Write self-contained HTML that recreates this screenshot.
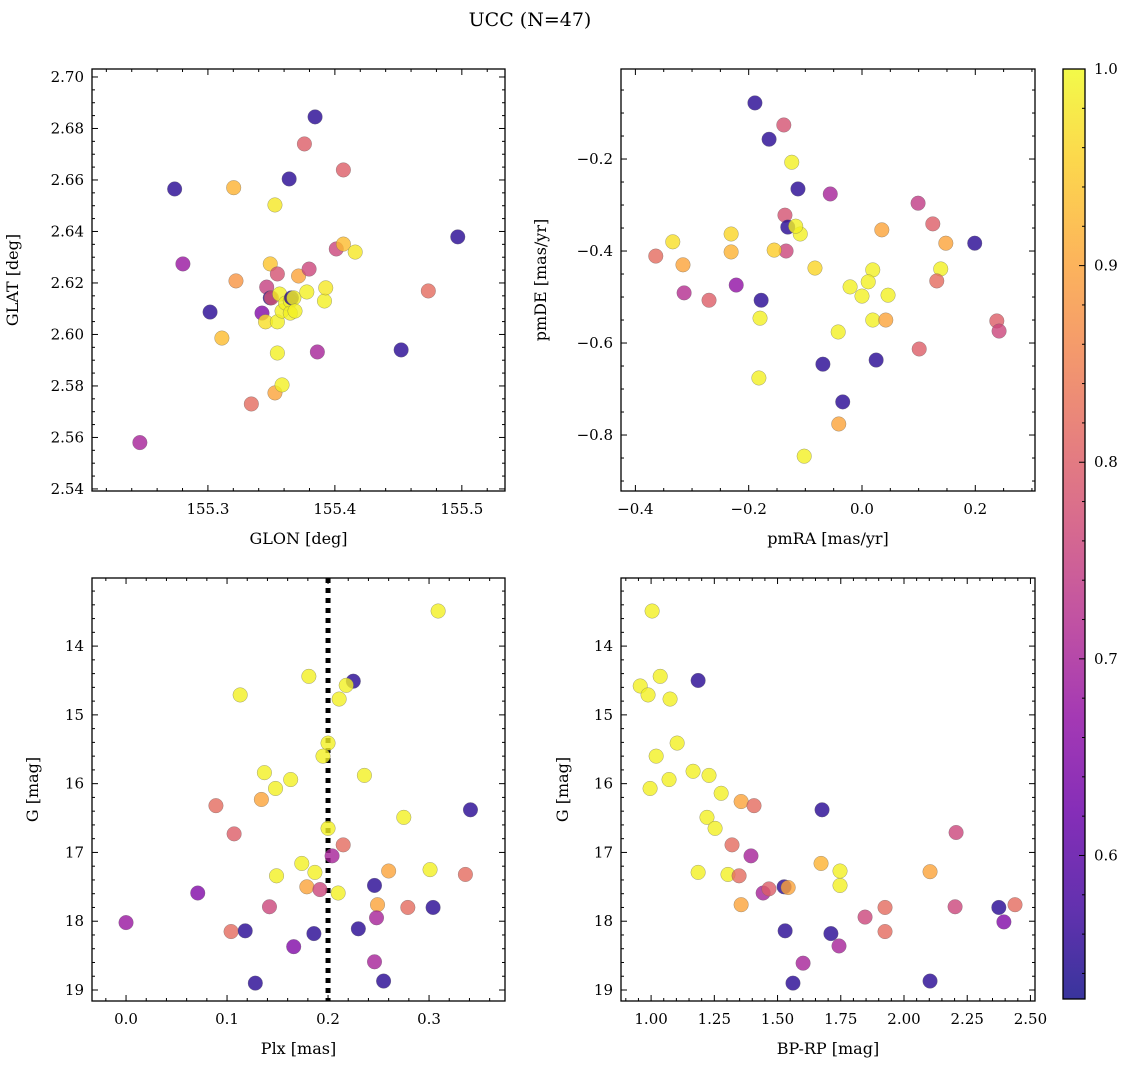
<!DOCTYPE html>
<html><head><meta charset="utf-8"><style>
body{margin:0;background:#fff}
svg{display:block;font-family:"DejaVu Serif","Liberation Serif",serif}
</style></head><body>
<svg id="fig" width="1136" height="1068" viewBox="0 0 1136 1068" xmlns="http://www.w3.org/2000/svg">
<defs><linearGradient id="cbg" x1="0" y1="1" x2="0" y2="0">
<stop offset="0" stop-color="#0d0887"/><stop offset="0.1" stop-color="#41049d"/><stop offset="0.2" stop-color="#6a00a8"/><stop offset="0.3" stop-color="#8f0da4"/><stop offset="0.4" stop-color="#b12a90"/><stop offset="0.5" stop-color="#cc4778"/><stop offset="0.6" stop-color="#e16462"/><stop offset="0.7" stop-color="#f2844b"/><stop offset="0.8" stop-color="#fca636"/><stop offset="0.9" stop-color="#fcce25"/><stop offset="1" stop-color="#f0f921"/></linearGradient></defs>
<text x="530" y="26" font-size="19" text-anchor="middle">UCC (N=47)</text>
</svg>
<script>
// ---- data ----
const glon=[155.2464,155.2738,155.2803,155.3017,155.311,155.3203,155.3221,155.3342,155.3426,155.3454,155.3463,155.3491,155.350,155.3491,155.3528,155.3528,155.3547,155.3547,155.3547,155.3565,155.3584,155.3584,155.3612,155.364,155.3649,155.3649,155.3658,155.3677,155.3686,155.3714,155.376,155.3779,155.3797,155.3844,155.3862,155.3918,155.3928,155.4011,155.4067,155.4067,155.416,155.4522,155.4736,155.4968];
const glat=[2.558,2.6565,2.6274,2.6087,2.5986,2.657,2.6208,2.573,2.6083,2.6049,2.6184,2.6142,2.6142,2.6274,2.6503,2.5773,2.6235,2.6049,2.5928,2.6157,2.6091,2.5804,2.6122,2.6604,2.613,2.6083,2.6142,2.6142,2.6091,2.6227,2.674,2.6165,2.6254,2.6845,2.5932,2.613,2.6181,2.6332,2.6639,2.6351,2.632,2.594,2.6169,2.6379];
const prob1=[0.70,0.55,0.68,0.55,0.93,0.92,0.88,0.82,0.65,0.97,0.75,0.55,0.78,0.94,0.98,0.90,0.78,0.99,0.99,0.99,0.99,0.99,0.99,0.55,0.99,0.99,0.55,0.99,0.99,0.90,0.80,0.99,0.76,0.55,0.70,0.99,0.98,0.76,0.80,0.93,0.98,0.55,0.82,0.55];

const pmra=[-0.189,-0.164,-0.138,-0.124,-0.113,-0.136,-0.056,0.099,0.125,-0.109,-0.131,-0.117,-0.134,-0.155,0.148,0.035,-0.334,-0.231,-0.364,-0.316,-0.231,-0.222,-0.314,-0.270,-0.178,-0.180,-0.083,0.019,0.011,-0.021,0,0.046,0.139,0.132,0.199,0.019,0.042,-0.042,0.025,-0.069,0.101,-0.182,-0.034,-0.041,-0.102,0.238,0.242];
const pmde=[-0.078,-0.157,-0.126,-0.207,-0.265,-0.322,-0.276,-0.296,-0.341,-0.363,-0.348,-0.346,-0.400,-0.398,-0.383,-0.354,-0.380,-0.363,-0.411,-0.430,-0.402,-0.474,-0.491,-0.507,-0.507,-0.546,-0.437,-0.441,-0.467,-0.478,-0.498,-0.496,-0.439,-0.465,-0.383,-0.550,-0.550,-0.576,-0.637,-0.646,-0.613,-0.676,-0.728,-0.776,-0.846,-0.552,-0.574];
const prob2=[0.55,0.55,0.78,0.99,0.55,0.78,0.70,0.74,0.80,0.99,0.55,0.99,0.76,0.95,0.90,0.90,0.97,0.96,0.82,0.90,0.92,0.67,0.72,0.80,0.55,0.99,0.96,0.99,0.99,0.99,0.99,0.99,0.99,0.82,0.55,0.99,0.90,0.99,0.55,0.55,0.80,0.99,0.55,0.90,0.99,0.80,0.76];

const plx=[0.309,0.000,0.071,0.104,0.118,0.113,0.181,0.225,0.218,0.211,0.200,0.195,0.236,0.137,0.163,0.148,0.089,0.134,0.275,0.341,0.200,0.215,0.107,0.204,0.174,0.187,0.149,0.260,0.301,0.336,0.179,0.192,0.210,0.246,0.249,0.142,0.279,0.248,0.304,0.230,0.166,0.186,0.246,0.128,0.255];
const gmag3=[13.49,18.02,17.59,18.15,18.14,14.71,14.44,14.51,14.57,14.77,15.41,15.60,15.88,15.84,15.94,16.07,16.32,16.23,16.49,16.38,16.65,16.89,16.73,17.05,17.16,17.29,17.34,17.27,17.25,17.32,17.50,17.54,17.59,17.48,17.76,17.79,17.80,17.95,17.80,18.11,18.37,18.18,18.59,18.90,18.87];
const prob3=[0.99,0.68,0.65,0.82,0.55,0.99,0.99,0.55,0.99,0.99,0.99,0.99,0.99,0.99,0.99,0.99,0.82,0.90,0.99,0.55,0.99,0.82,0.80,0.70,0.99,0.99,0.99,0.90,0.99,0.82,0.90,0.76,0.99,0.55,0.90,0.76,0.82,0.70,0.55,0.55,0.65,0.55,0.70,0.55,0.55];

const bprp=[1.004,0.957,1.036,0.988,1.186,1.075,1.103,1.020,1.071,1.166,1.229,0.996,1.277,1.356,1.407,1.676,1.221,1.253,1.320,1.395,1.672,1.186,1.304,1.348,1.356,1.443,1.466,1.526,1.542,1.747,1.747,1.846,2.103,2.206,2.202,1.925,2.375,2.395,2.439,1.530,1.711,1.925,1.743,1.601,1.561,2.103];
const gmag4=[13.49,14.58,14.44,14.71,14.50,14.77,15.41,15.60,15.94,15.82,15.88,16.07,16.14,16.26,16.32,16.38,16.49,16.65,16.89,17.05,17.16,17.29,17.32,17.34,17.76,17.59,17.53,17.50,17.51,17.27,17.48,17.94,17.28,16.71,17.79,17.80,17.80,18.01,17.76,18.14,18.18,18.15,18.36,18.61,18.90,18.87];
const prob4=[0.99,0.99,0.99,0.99,0.55,0.99,0.99,0.99,0.99,0.99,0.99,0.99,0.99,0.90,0.82,0.55,0.99,0.99,0.82,0.70,0.92,0.99,0.99,0.82,0.90,0.70,0.80,0.55,0.90,0.99,0.99,0.76,0.90,0.76,0.76,0.82,0.55,0.65,0.82,0.55,0.55,0.82,0.70,0.70,0.55,0.55];

const vmin=0.527, vmax=1.0;
const cbTicks=[0.6,0.7,0.8,0.9,1.0];

const svg=document.getElementById('fig');
const NS='http://www.w3.org/2000/svg';
function mk(tag,attrs,parent){const e=document.createElementNS(NS,tag);for(const k in attrs)e.setAttribute(k,attrs[k]);(parent||svg).appendChild(e);return e;}
const stops=['#0d0887','#41049d','#6a00a8','#8f0da4','#b12a90','#cc4778','#e16462','#f2844b','#fca636','#fcce25','#f0f921'];
function hex(h){return [1,3,5].map(i=>parseInt(h.substr(i,2),16));}
function plasma(v){let t=(v-vmin)/(vmax-vmin);t=Math.max(0,Math.min(1,t));const f=t*10,i=Math.min(9,Math.floor(f)),r=f-i;const a=hex(stops[i]),b=hex(stops[i+1]);return 'rgb('+a.map((c,k)=>Math.round(c+(b[k]-c)*r)).join(',')+')';}

function panel(o){
  const g=mk('g',{});
  
  
  const sx=v=>o.x0+(v-o.xmin)/(o.xmax-o.xmin)*(o.x1-o.x0);
  const sy=v=>o.inv? o.y0+(v-o.ymin)/(o.ymax-o.ymin)*(o.y1-o.y0) : o.y1-(v-o.ymin)/(o.ymax-o.ymin)*(o.y1-o.y0);
  if(o.vline!==undefined){const l=mk('line',{x1:sx(o.vline),x2:sx(o.vline),y1:o.y0,y2:o.y1,stroke:'#000','stroke-width':5,'stroke-dasharray':'5,5'},g);
    
    }
  o.xs.forEach((xv,i)=>{const c=mk('circle',{cx:sx(xv),cy:sy(o.ys[i]),r:7.3,fill:plasma(o.cs[i]),'fill-opacity':0.8,stroke:'#666','stroke-width':0.5,'stroke-opacity':0.6},g);
    
    });
  mk('rect',{x:o.x0,y:o.y0,width:o.x1-o.x0,height:o.y1-o.y0,fill:'none',stroke:'#000','stroke-width':1.3},g);
  const eps=1e-9;
  for(let k=Math.ceil(o.xmin/o.xminor-eps);k*o.xminor<=o.xmax+eps;k++){
    const v=k*o.xminor;const px=sx(v);const maj=Math.abs(v/o.xmajor-Math.round(v/o.xmajor))<1e-6;const L=maj?6:3;
    mk('line',{x1:px,x2:px,y1:o.y1,y2:o.y1-L,stroke:'#000','stroke-width':1},g);
    mk('line',{x1:px,x2:px,y1:o.y0,y2:o.y0+L,stroke:'#000','stroke-width':1},g);
    if(maj){const t=mk('text',{x:px,y:o.y1+23,'font-size':15,'text-anchor':'middle'},g);t.textContent=o.xfmt(v);
      
      }
  }
  for(let k=Math.ceil(o.ymin/o.yminor-eps);k*o.yminor<=o.ymax+eps;k++){
    const v=k*o.yminor;const py=sy(v);const maj=Math.abs(v/o.ymajor-Math.round(v/o.ymajor))<1e-6;const L=maj?6:3;
    mk('line',{x1:o.x0,x2:o.x0+L,y1:py,y2:py,stroke:'#000','stroke-width':1},g);
    mk('line',{x1:o.x1,x2:o.x1-L,y1:py,y2:py,stroke:'#000','stroke-width':1},g);
    if(maj){const t=mk('text',{x:o.x0-8,y:py+5,'font-size':15,'text-anchor':'end'},g);t.textContent=o.yfmt(v);
      
      }
  }
  const xl=mk('text',{x:(o.x0+o.x1)/2,y:o.y1+53,'font-size':16,'text-anchor':'middle'},g);xl.textContent=o.xlabel;
  
  
  const yx=o.ylx, yy=(o.y0+o.y1)/2;
  const yl=mk('text',{x:yx,y:yy,'font-size':16,'text-anchor':'middle',transform:'rotate(-90 '+yx+' '+yy+')'},g);yl.textContent=o.ylabel;
  
  
}
const m=v=>(v<0?'\u2212':'')+Math.abs(v);
panel({name:'glon-glat-panel',x0:92,x1:505,y0:69,y1:491,xmin:155.2087,xmax:155.534,ymin:2.5392,ymax:2.7031,xmajor:0.1,xminor:0.02,ymajor:0.02,yminor:0.005,
  xfmt:v=>v.toFixed(1),yfmt:v=>v.toFixed(2),xs:glon,ys:glat,cs:prob1,xlabel:'GLON [deg]',ylabel:'GLAT [deg]',ylx:18});
panel({name:'pm-panel',x0:621,x1:1035,y0:69,y1:491,xmin:-0.4254,xmax:0.3054,ymin:-0.9217,ymax:-0.0043,xmajor:0.2,xminor:0.05,ymajor:0.2,yminor:0.05,
  xfmt:v=>m(+v.toFixed(1)).replace(/^(\u2212?)0$/,'$10.0').replace(/^(\u2212?\d)$/,'$1.0'),yfmt:v=>m(+v.toFixed(1)),xs:pmra,ys:pmde,cs:prob2,xlabel:'pmRA [mas/yr]',ylabel:'pmDE [mas/yr]',ylx:546});
panel({name:'plx-g-panel',x0:92,x1:505,y0:578,y1:1001,xmin:-0.0337,xmax:0.3752,ymin:13.01,ymax:19.16,inv:true,xmajor:0.1,xminor:0.02,ymajor:1,yminor:0.2,
  xfmt:v=>v.toFixed(1),yfmt:v=>String(Math.round(v)),xs:plx,ys:gmag3,cs:prob3,xlabel:'Plx [mas]',ylabel:'G [mag]',ylx:38,vline:0.2});
panel({name:'color-magnitude-panel',x0:621,x1:1035,y0:578,y1:1001,xmin:0.881,xmax:2.518,ymin:13.01,ymax:19.16,inv:true,xmajor:0.25,xminor:0.05,ymajor:1,yminor:0.2,
  xfmt:v=>v.toFixed(2),yfmt:v=>String(Math.round(v)),xs:bprp,ys:gmag4,cs:prob4,xlabel:'BP-RP [mag]',ylabel:'G [mag]',ylx:568});
// colorbar
const cb=mk('g',{});


const cy0=69,cy1=999,cx0=1063,cx1=1085;
mk('rect',{x:cx0,y:cy0,width:cx1-cx0,height:cy1-cy0,fill:'url(#cbg)','fill-opacity':0.82},cb);
mk('rect',{x:cx0,y:cy0,width:cx1-cx0,height:cy1-cy0,fill:'none',stroke:'#000','stroke-width':1.3},cb);
const cby=v=>cy1-(v-vmin)/(vmax-vmin)*(cy1-cy0);
for(let k=27;k<=50;k++){const v=k*0.02;const py=cby(v);const maj=cbTicks.some(t=>Math.abs(t-v)<1e-6);
  mk('line',{x1:cx1,x2:cx1-(maj?6:3),y1:py,y2:py,stroke:'#000','stroke-width':1},cb);}
cbTicks.forEach(v=>{const t=mk('text',{x:1094,y:cby(v)+5,'font-size':15},cb);t.textContent=v.toFixed(1);
  
  });
</script>
</body></html>
